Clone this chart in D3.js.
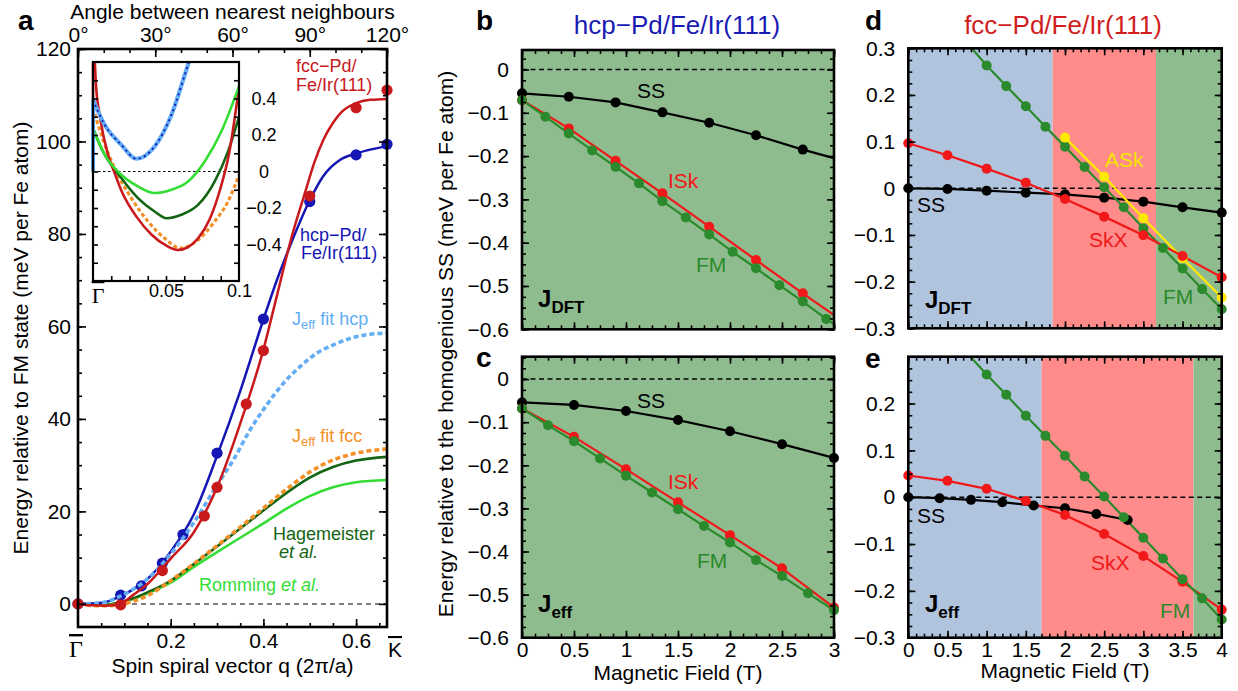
<!DOCTYPE html>
<html><head><meta charset="utf-8">
<script src="https://cdn.jsdelivr.net/npm/d3@7"></script>
<style>
body{margin:0;background:#fff;}
svg{display:block;font-family:"Liberation Sans",Arial,Helvetica,sans-serif;}
</style></head><body>
<svg id="chart" width="1238" height="691"></svg>
<script>
// ---------------- Panel a: spin-spiral dispersion ----------------
const fccPtsQ = [0, 0.092, 0.182, 0.2725, 0.30, 0.363, 0.40, 0.50, 0.60, 0.6667];
const fccPtsE = [0, -0.2, 7.2, 19.0, 25.2, 43.2, 54.8, 88.2, 107.3, 111.1];
const hcpPtsQ = [0, 0.092, 0.137, 0.182, 0.2265, 0.30, 0.40, 0.50, 0.60, 0.6667];
const hcpPtsE = [0, 1.9, 3.9, 8.8, 15.0, 32.6, 61.6, 87.0, 97.1, 99.4];

const fccCurveQ = [0, 0.03, 0.06, 0.09, 0.12, 0.15, 0.2, 0.25, 0.3, 0.35, 0.4, 0.43, 0.46, 0.49, 0.51, 0.53, 0.55, 0.57, 0.6, 0.63, 0.6667];
const fccCurveE = [0, -0.3, -0.4, 0.0, 2.0, 4.3, 9.8, 15.5, 25.2, 39.0, 55.0, 67.0, 79.0, 89.0, 95.5, 100.5, 104.0, 106.5, 108.3, 109.0, 109.2];
const hcpCurveQ = [0, 0.03, 0.06, 0.09, 0.12, 0.15, 0.2, 0.25, 0.3, 0.35, 0.4, 0.429, 0.457, 0.5, 0.529, 0.565, 0.6, 0.6667];
const hcpCurveE = [0, 0.07, 0.4, 1.6, 3.2, 5.4, 11.3, 19.4, 32.0, 46.0, 61.5, 70.0, 77.3, 87.3, 92.5, 96.0, 97.4, 99.0];
const jeffHcpQ = [0, 0.03, 0.06, 0.09, 0.12, 0.15, 0.2, 0.25, 0.3, 0.335, 0.371, 0.407, 0.443, 0.479, 0.515, 0.551, 0.587, 0.623, 0.6667];
const jeffHcpE = [0, 0.07, 0.4, 1.6, 3.2, 5.4, 10.8, 17.6, 25.7, 31.1, 37.6, 43.0, 47.7, 51.3, 54.2, 56.0, 57.4, 58.2, 58.6];
const jeffFccQ = [0, 0.03, 0.06, 0.09, 0.12, 0.15, 0.2, 0.25, 0.3, 0.35, 0.4, 0.45, 0.5, 0.55, 0.6, 0.6667];
const jeffFccE = [0, -0.35, -0.42, -0.1, 0.6, 1.8, 5.0, 8.7, 12.6, 16.6, 20.7, 24.8, 28.5, 31.1, 32.6, 33.5];
const hagemQ = [0, 0.03, 0.06, 0.09, 0.12, 0.15, 0.2, 0.25, 0.3, 0.35, 0.4, 0.45, 0.5, 0.55, 0.6, 0.6667];
const hagemE = [0, -0.15, -0.25, 0.3, 1.2, 2.5, 5.0, 8.6, 12.4, 16.3, 20.2, 24.0, 27.3, 29.6, 31.0, 31.8];
const rommQ = [0, 0.03, 0.06, 0.09, 0.12, 0.15, 0.2, 0.25, 0.3, 0.35, 0.4, 0.45, 0.5, 0.55, 0.6, 0.6667];
const rommE = [0, -0.1, -0.1, 0.3, 1.1, 2.3, 4.6, 8.0, 11.2, 14.3, 17.4, 20.6, 23.3, 25.2, 26.3, 26.8];

const aYTicks = [0, 20, 40, 60, 80, 100, 120];
const aXTicks = [0.2, 0.4, 0.6];
const angleTicks = [0, 30, 60, 90, 120];

// inset (zoom near Gamma)
const inFccQ = [0.0005, 0.002, 0.005, 0.01, 0.0144, 0.02, 0.03, 0.04, 0.05, 0.058, 0.065, 0.072, 0.08, 0.087, 0.093, 0.1];
const inFccE = [0.75, 0.48, 0.29, 0.1, 0.0, -0.115, -0.25, -0.345, -0.405, -0.43, -0.415, -0.366, -0.26, -0.1, 0.09, 0.46];
const inHcpQ = [0, 0.008, 0.0194, 0.0297, 0.0422, 0.0537, 0.0651, 0.07];
const inHcpE = [0.393, 0.256, 0.146, 0.070, 0.137, 0.31, 0.585, 0.70];
const inJeffFccQ = [0, 0.0057, 0.0148, 0.0263, 0.0377, 0.0491, 0.0600, 0.0719, 0.0833, 0.0925, 0.1];
const inJeffFccE = [0.35, 0.201, 0.018, -0.146, -0.274, -0.366, -0.420, -0.375, -0.274, -0.164, -0.02];
const inHagemQ = [0, 0.0057, 0.0194, 0.0308, 0.0422, 0.0502, 0.0605, 0.0719, 0.0833, 0.0925, 0.1];
const inHagemE = [0.237, 0.128, -0.036, -0.146, -0.219, -0.256, -0.237, -0.183, -0.055, 0.11, 0.30];
const inRommQ = [0, 0.008, 0.0194, 0.0308, 0.0422, 0.0537, 0.0651, 0.0765, 0.0879, 0.1];
const inRommE = [0.237, 0.092, -0.018, -0.082, -0.118, -0.1, -0.055, 0.055, 0.219, 0.467];
const inYLabels = [-0.4, -0.2, 0, 0.2, 0.4];
const inXLabels = [0.05, 0.1];

// ---------------- Panel b/c: hcp-Pd/Fe/Ir(111) ----------------
const bSSField = [0, 0.45, 0.9, 1.35, 1.8, 2.25, 2.7];
const bSS = [-0.055, -0.063, -0.076, -0.099, -0.123, -0.152, -0.185];
const bSSEnd = -0.205;
const bISk = [-0.071, -0.136, -0.211, -0.286, -0.363, -0.440, -0.517];
const bISkEnd = -0.567;
const bFMField = [0, 0.225, 0.45, 0.675, 0.9, 1.125, 1.35, 1.575, 1.8, 2.025, 2.25, 2.475, 2.7, 2.925];
const bFM = [-0.071, -0.109, -0.148, -0.187, -0.225, -0.263, -0.304, -0.342, -0.381, -0.421, -0.459, -0.498, -0.536, -0.576];
const bFMEnd = -0.588;
const bFieldEnd = 3.0;

const cSSField = [0, 0.5, 1, 1.5, 2, 2.5, 3];
const cSS = [-0.054, -0.060, -0.074, -0.095, -0.121, -0.151, -0.183];
const cISk = [-0.068, -0.134, -0.209, -0.286, -0.362, -0.439, -0.530];
const cFMField = [0, 0.25, 0.5, 0.75, 1, 1.25, 1.5, 1.75, 2, 2.25, 2.5, 2.75, 3];
const cFM = [-0.068, -0.107, -0.144, -0.184, -0.224, -0.263, -0.302, -0.341, -0.379, -0.420, -0.457, -0.497, -0.536];

// ---------------- Panel d/e: fcc-Pd/Fe/Ir(111) ----------------
const dSSField = [0, 0.5, 1, 1.5, 2, 2.5, 3, 3.5, 4];
const dSS = [0, -0.0014, -0.005, -0.0093, -0.0129, -0.020, -0.0286, -0.0407, -0.0521];
const dSkX = [0.0964, 0.0707, 0.0421, 0.0121, -0.0229, -0.0607, -0.1007, -0.145, -0.1907];
const dFMField = [1, 1.25, 1.5, 1.75, 2, 2.25, 2.5, 2.75, 3, 3.25, 3.5, 3.75, 4];
const dFM = [0.263, 0.219, 0.176, 0.132, 0.0893, 0.0457, 0.0021, -0.0407, -0.0857, -0.128, -0.172, -0.216, -0.259];
const dFMTop = [0.81, 0.30];
const dASkField = [2, 2.5, 3, 3.5, 4];
const dASk = [0.1086, 0.025, -0.0643, -0.15, -0.234];
const dPhaseBounds = [0, 1.843, 3.162, 4];

const eSSField = [0, 0.4, 0.8, 1.2, 1.6, 2.0, 2.4, 2.8];
const eSS = [0, -0.0021, -0.0057, -0.0107, -0.0179, -0.0236, -0.0357, -0.0486];
const eSkXField = [0, 0.5, 1, 1.5, 2, 2.5, 3, 3.5, 4];
const eSkX = [0.0464, 0.035, 0.0179, -0.0079, -0.0379, -0.0786, -0.1257, -0.1807, -0.24];
const eFMField = [1, 1.25, 1.5, 1.75, 2, 2.25, 2.5, 2.75, 3, 3.25, 3.5, 3.75, 4];
const eFM = [0.262, 0.219, 0.174, 0.131, 0.0886, 0.0443, 0.0014, -0.0429, -0.0864, -0.131, -0.175, -0.216, -0.261];
const eFMTop = [0.787, 0.301];
const ePhaseBounds = [0, 1.70, 3.64, 4];

const phaseColors = ["#b0c4de", "#ff8b8b", "#8fbc8f"];

// ---------------- colours ----------------
const C = {
  fcc: "#c8191c", hcp: "#1616b4", jeffHcp: "#62adf3", jeffFcc: "#f39128",
  hagem: "#136413", romm: "#34dd34", ss: "#000", red: "#f01818", fm: "#2b8a2b",
  ask: "#ffea00", askText: "#f5e400"
};

const svg = d3.select("#chart");
const zip = (a, b) => a.map((v, i) => [v, b[i]]);
const fmt1 = d => d === 0 ? "0" : d3.format(".1f")(d);
const steps = (a, b, s) => d3.range(Math.round((b - a) / s) + 1).map(i => +(a + i * s).toFixed(6));

function axis(g, fn, scale, values, size, transform, opts = {}) {
  const ax = fn(scale).tickValues(values).tickSize(-size)
    .tickPadding(opts.pad || 5).tickFormat(opts.format || "");
  const s = g.append("g").attr("transform", transform).call(ax);
  s.select(".domain").remove();
  s.attr("font-family", null).attr("font-size", null);
  s.selectAll("line").attr("stroke", "#000").attr("stroke-width", 1.6);
  s.selectAll("text").attr("fill", "#000").attr("font-size", opts.fs || 21);
  return s;
}

function frame(g, x, y) {
  g.append("rect").attr("x", x.range()[0]).attr("y", y.range()[1])
    .attr("width", x.range()[1] - x.range()[0]).attr("height", y.range()[0] - y.range()[1])
    .attr("fill", "none").attr("stroke", "#000").attr("stroke-width", 2.6);
}

function text(g, x, y, str, opts = {}) {
  const t = g.append("text").attr("x", x).attr("y", y).attr("font-size", opts.fs || 21)
    .attr("fill", opts.fill || "#000").attr("text-anchor", opts.anchor || "start");
  if (opts.weight) t.attr("font-weight", opts.weight);
  if (opts.style) t.attr("font-style", opts.style);
  if (opts.family) t.attr("font-family", opts.family);
  t.text(str);
  return t;
}

// ======================= PANEL A =======================
const aX = d3.scaleLinear().domain([0, 2 / 3]).range([78, 387]);
const aY = d3.scaleLinear().domain([-5, 120]).range([627, 49]);
const aAng = d3.scaleLinear().domain([0, 120]).range([78, 387]);
const gA = svg.append("g");

// zero line
gA.append("line").attr("x1", aX(0)).attr("x2", aX(2 / 3)).attr("y1", aY(0)).attr("y2", aY(0))
  .attr("stroke", "#555").attr("stroke-width", 1.5).attr("stroke-dasharray", "5,4");

const lineA = d3.line().x(d => aX(d[0])).y(d => aY(d[1])).curve(d3.curveMonotoneX);
const curvesA = gA.append("g");
function curveA(q, e, color, w, dash) {
  const p = curvesA.append("path").attr("d", lineA(zip(q, e))).attr("fill", "none")
    .attr("stroke", color).attr("stroke-width", w).attr("stroke-linecap", "butt");
  if (dash) p.attr("stroke-dasharray", dash);
}
curveA(rommQ, rommE, C.romm, 2.6);
curveA(hagemQ, hagemE, C.hagem, 2.6);
curveA(jeffFccQ, jeffFccE, C.jeffFcc, 3.6, "5,3");
curveA(hcpCurveQ, hcpCurveE, C.hcp, 2.5);
curvesA.selectAll("circle.hcp").data(zip(hcpPtsQ, hcpPtsE)).join("circle")
  .attr("cx", d => aX(d[0])).attr("cy", d => aY(d[1])).attr("r", 5.6).attr("fill", C.hcp);
curveA(jeffHcpQ, jeffHcpE, C.jeffHcp, 3.6, "5,3");
curveA(fccCurveQ, fccCurveE, C.fcc, 2.5);
curvesA.selectAll("circle.fcc").data(zip(fccPtsQ, fccPtsE)).join("circle")
  .attr("cx", d => aX(d[0])).attr("cy", d => aY(d[1])).attr("r", 5.6).attr("fill", C.fcc);

// axes a
axis(gA, d3.axisLeft, aY, steps(0, 120, 5), 4, "translate(78,0)");
axis(gA, d3.axisLeft, aY, aYTicks, 8, "translate(78,0)", { format: d3.format("d"), pad: 7 });
axis(gA, d3.axisRight, aY, steps(0, 120, 5), 4, "translate(387,0)");
axis(gA, d3.axisRight, aY, aYTicks, 8, "translate(387,0)");
axis(gA, d3.axisBottom, aX, steps(0.05, 0.65, 0.05), 4, "translate(0,627)");
axis(gA, d3.axisBottom, aX, aXTicks, 8, "translate(0,627)", { format: d3.format(".1f"), pad: 6 });
axis(gA, d3.axisTop, aAng, steps(0, 120, 10), 4, "translate(0,49)");
axis(gA, d3.axisTop, aAng, angleTicks, 8, "translate(0,49)", { format: d => d + "°", pad: 7 });
frame(gA, aX, aY);

// Gamma / K labels
text(gA, aX(0) - 2, 657, "Γ", { fs: 24, anchor: "middle", family: '"Liberation Serif", "Times New Roman", serif' })
  .style("text-decoration", "overline");
text(gA, aX(2 / 3) + 8, 657, "K", { fs: 21, anchor: "middle" }).style("text-decoration", "overline");

text(gA, 232.5, 673, "Spin spiral vector q (2π/a)", { anchor: "middle" });
text(gA, 232.5, 19, "Angle between nearest neighbours", { anchor: "middle" });
gA.append("text").attr("transform", "translate(28,338) rotate(-90)").attr("text-anchor", "middle")
  .attr("font-size", 21).text("Energy relative to FM state (meV per Fe atom)");
text(gA, 18, 30, "a", { fs: 28, weight: "bold" });

// curve labels
text(gA, 296, 72, "fcc−Pd/", { fs: 18, fill: C.fcc });
text(gA, 296, 91, "Fe/Ir(111)", { fs: 18, fill: C.fcc });
text(gA, 300, 241, "hcp−Pd/", { fs: 18, fill: C.hcp });
text(gA, 301, 259, "Fe/Ir(111)", { fs: 18, fill: C.hcp });
function jeffLabel(x, y, rest, color) {
  const t = gA.append("text").attr("x", x).attr("y", y).attr("font-size", 18).attr("fill", color);
  t.append("tspan").text("J");
  t.append("tspan").attr("font-size", 13).attr("dy", 4).text("eff");
  t.append("tspan").attr("dy", -4).text(rest);
}
jeffLabel(292, 325, " fit hcp", C.jeffHcp);
jeffLabel(292, 442, " fit fcc", C.jeffFcc);
text(gA, 273, 540, "Hagemeister", { fs: 18, fill: C.hagem });
text(gA, 279, 558, "et al.", { fs: 18, fill: C.hagem, style: "italic" });
const rt = gA.append("text").attr("x", 199).attr("y", 591).attr("font-size", 18).attr("fill", C.romm);
rt.append("tspan").text("Romming ");
rt.append("tspan").attr("font-style", "italic").text("et al.");

// ----- inset -----
const iX = d3.scaleLinear().domain([0, 0.1]).range([93, 239]);
const iY = d3.scaleLinear().domain([-0.6, 0.6]).range([281, 62]);
const gI = svg.append("g");
gI.append("rect").attr("x", 93).attr("y", 62).attr("width", 146).attr("height", 219).attr("fill", "#fff");
gI.append("clipPath").attr("id", "clipI").append("rect").attr("x", 91).attr("y", 62).attr("width", 148).attr("height", 219);
gI.append("line").attr("x1", iX(0)).attr("x2", iX(0.1)).attr("y1", iY(0)).attr("y2", iY(0))
  .attr("stroke", "#000").attr("stroke-width", 1.2).attr("stroke-dasharray", "2.5,2.5");
const gIc = gI.append("g").attr("clip-path", "url(#clipI)");
const lineI = d3.line().x(d => iX(d[0])).y(d => iY(d[1])).curve(d3.curveMonotoneX);
const lineIlin = d3.line().x(d => iX(d[0])).y(d => iY(d[1]));
function curveI(q, e, color, w, dash) {
  // jump from E = 0 at Gamma to the first spin-spiral value
  const j = gIc.append("path").attr("d", lineIlin([[0, 0], [0, e[0]]])).attr("fill", "none")
    .attr("stroke", color).attr("stroke-width", w);
  const p = gIc.append("path").attr("d", lineI(zip(q, e))).attr("fill", "none")
    .attr("stroke", color).attr("stroke-width", w);
  if (dash) { p.attr("stroke-dasharray", dash); j.attr("stroke-dasharray", dash); }
}
curveI(inJeffFccQ, inJeffFccE, C.jeffFcc, 3.2, "4,2.5");
curveI(inHagemQ, inHagemE, C.hagem, 2.6);
curveI(inFccQ, inFccE, C.fcc, 2.6);
curveI(inRommQ, inRommE, C.romm, 2.6);
curveI(inHcpQ, inHcpE, C.jeffHcp, 4.2);
curveI(inHcpQ, inHcpE, C.hcp, 1.8, "2,3.5");
axis(gI, d3.axisLeft, iY, steps(-0.5, 0.5, 0.1), 5, "translate(93,0)");
axis(gI, d3.axisRight, iY, steps(-0.5, 0.5, 0.1), 5, "translate(239,0)");
axis(gI, d3.axisBottom, iX, steps(0.0125, 0.0875, 0.0125), 5, "translate(0,281)");
axis(gI, d3.axisBottom, iX, inXLabels, 0, "translate(0,281)", { format: d3.format("~g"), pad: 3, fs: 18 });
gI.selectAll("text.iny").data(inYLabels).join("text").attr("class", "iny")
  .attr("x", 264).attr("y", d => iY(d)).attr("dy", "0.35em").attr("text-anchor", "middle")
  .attr("font-size", 18).text(fmt1);
gI.append("rect").attr("x", 93).attr("y", 62).attr("width", 146).attr("height", 219)
  .attr("fill", "none").attr("stroke", "#000").attr("stroke-width", 2.2);
text(gI, 98, 303, "Γ", { fs: 22, anchor: "middle", family: '"Liberation Serif", "Times New Roman", serif' })
  .style("text-decoration", "overline");

// ======================= PANELS b-e =======================
function fieldPanel(o) {
  const g = svg.append("g");
  const id = "clip" + o.name;
  g.append("clipPath").attr("id", id).append("rect")
    .attr("x", o.x.range()[0]).attr("y", o.y.range()[1])
    .attr("width", o.x.range()[1] - o.x.range()[0]).attr("height", o.y.range()[0] - o.y.range()[1]);
  g.selectAll("rect.bg").data(d3.pairs(o.bounds)).join("rect").attr("class", "bg")
    .attr("x", d => o.x(d[0])).attr("width", d => o.x(d[1]) - o.x(d[0]))
    .attr("y", o.y.range()[1]).attr("height", o.y.range()[0] - o.y.range()[1])
    .attr("fill", (d, i) => o.colors[i]);
  g.append("line").attr("x1", o.x.range()[0]).attr("x2", o.x.range()[1])
    .attr("y1", o.y(0)).attr("y2", o.y(0)).attr("stroke", "#000").attr("stroke-width", 1.5)
    .attr("stroke-dasharray", "5,3.5");
  const data = g.append("g").attr("clip-path", `url(#${id})`);
  const line = d3.line().x(d => o.x(d[0])).y(d => o.y(d[1]));
  o.series.forEach(s => {
    data.append("path").attr("d", line(s.line)).attr("fill", "none")
      .attr("stroke", s.color).attr("stroke-width", 2.2);
  });
  const dots = g.append("g");
  o.series.forEach(s => {
    dots.selectAll(null).data(s.dots).join("circle")
      .attr("cx", d => o.x(d[0])).attr("cy", d => o.y(d[1])).attr("r", 5).attr("fill", s.color);
  });
  const [x0, x1] = o.x.range(), [y1, y0] = o.y.range();
  const yMin = steps(o.yMinor[0], o.yMinor[1], 0.025);
  axis(g, d3.axisLeft, o.y, yMin, 4, `translate(${x0},0)`);
  axis(g, d3.axisLeft, o.y, o.yMajor, 7, `translate(${x0},0)`);
  axis(g, d3.axisLeft, o.y, o.yLabels, 0, `translate(${x0},0)`, { format: fmt1, pad: 13 });
  axis(g, d3.axisRight, o.y, yMin, 4, `translate(${x1},0)`);
  axis(g, d3.axisRight, o.y, o.yMajor, 7, `translate(${x1},0)`);
  const xMin = steps(0, o.xMax, o.xMinorStep);
  const xMaj = steps(0, o.xMax, 0.5);
  axis(g, d3.axisBottom, o.x, xMin, 4, `translate(0,${y1})`);
  axis(g, d3.axisBottom, o.x, xMaj, 7, `translate(0,${y1})`,
    o.xLabels ? { format: d3.format("~g"), pad: 4 } : {});
  axis(g, d3.axisTop, o.x, xMin, 4, `translate(0,${y0})`);
  axis(g, d3.axisTop, o.x, xMaj, 7, `translate(0,${y0})`);
  frame(g, o.x, o.y);
  o.labels.forEach(l => {
    if (l.sub) {
      const t = g.append("text").attr("x", o.x(l.at[0])).attr("y", o.y(l.at[1]))
        .attr("font-size", 24).attr("font-weight", "bold").attr("fill", "#000");
      t.append("tspan").text(l.text);
      t.append("tspan").attr("font-size", 17).attr("dy", 6).text(l.sub);
    } else {
      text(g, o.x(l.at[0]), o.y(l.at[1]), l.text, { fill: l.color });
    }
  });
  return g;
}

const xB = d3.scaleLinear().domain([0, 3]).range([522, 834]);
const yB = d3.scaleLinear().domain([-0.6, 0.045]).range([329.3, 50]);
const yC = d3.scaleLinear().domain([-0.6, 0.052]).range([637.7, 356.7]);
const xD = d3.scaleLinear().domain([0, 4]).range([908.3, 1221.7]);
const yD = d3.scaleLinear().domain([-0.3, 0.3]).range([328.3, 48.3]);
const yE = d3.scaleLinear().domain([-0.3, 0.3]).range([637.7, 356.7]);

const withEnd = (f, v, end) => zip(f, v).concat([[bFieldEnd, end]]);
fieldPanel({
  name: "b", x: xB, y: yB, bounds: [0, 3], colors: [phaseColors[2]],
  yMajor: steps(-0.6, 0, 0.1), yLabels: steps(-0.6, 0, 0.1), yMinor: [-0.6, 0.025],
  xMax: 3, xMinorStep: 0.125, xLabels: false,
  series: [
    { color: C.ss, line: withEnd(bSSField, bSS, bSSEnd), dots: zip(bSSField, bSS) },
    { color: C.red, line: withEnd(bSSField, bISk, bISkEnd), dots: zip(bSSField, bISk) },
    { color: C.fm, line: withEnd(bFMField, bFM, bFMEnd), dots: zip(bFMField, bFM) }
  ],
  labels: [
    { text: "SS", at: [1.106, -0.066], color: C.ss },
    { text: "ISk", at: [1.404, -0.274], color: C.red },
    { text: "FM", at: [1.673, -0.468], color: C.fm },
    { text: "J", sub: "DFT", at: [0.154, -0.548] }
  ]
});
fieldPanel({
  name: "c", x: xB, y: yC, bounds: [0, 3], colors: [phaseColors[2]],
  yMajor: steps(-0.6, 0, 0.1), yLabels: steps(-0.6, 0, 0.1), yMinor: [-0.6, 0.05],
  xMax: 3, xMinorStep: 0.125, xLabels: true,
  series: [
    { color: C.ss, line: zip(cSSField, cSS), dots: zip(cSSField, cSS) },
    { color: C.red, line: zip(cSSField, cISk), dots: zip(cSSField, cISk) },
    { color: C.fm, line: zip(cFMField, cFM), dots: zip(cFMField, cFM) }
  ],
  labels: [
    { text: "SS", at: [1.106, -0.067], color: C.ss },
    { text: "ISk", at: [1.404, -0.255], color: C.red },
    { text: "FM", at: [1.683, -0.438], color: C.fm },
    { text: "J", sub: "eff", at: [0.154, -0.540] }
  ]
});
fieldPanel({
  name: "d", x: xD, y: yD, bounds: dPhaseBounds, colors: phaseColors,
  yMajor: steps(-0.3, 0.3, 0.1), yLabels: steps(-0.3, 0.3, 0.1), yMinor: [-0.3, 0.3],
  xMax: 4, xMinorStep: 0.1, xLabels: false,
  series: [
    { color: C.ss, line: zip(dSSField, dSS), dots: zip(dSSField, dSS) },
    { color: C.fm, line: [dFMTop].concat(zip(dFMField, dFM)), dots: zip(dFMField, dFM) },
    { color: C.ask, line: zip(dASkField, dASk), dots: zip(dASkField, dASk) },
    { color: C.red, line: zip(dSSField, dSkX), dots: zip(dSSField, dSkX) }
  ],
  labels: [
    { text: "SS", at: [0.111, -0.051], color: C.ss },
    { text: "SkX", at: [2.306, -0.126], color: C.red },
    { text: "ASk", at: [2.51, 0.046], color: C.askText },
    { text: "FM", at: [3.25, -0.248], color: C.fm },
    { text: "J", sub: "DFT", at: [0.213, -0.256] }
  ]
});
fieldPanel({
  name: "e", x: xD, y: yE, bounds: ePhaseBounds, colors: phaseColors,
  yMajor: steps(-0.3, 0.3, 0.1), yLabels: steps(-0.3, 0.2, 0.1), yMinor: [-0.3, 0.3],
  xMax: 4, xMinorStep: 0.1, xLabels: true,
  series: [
    { color: C.ss, line: zip(eSSField, eSS), dots: zip(eSSField, eSS) },
    { color: C.red, line: zip(eSkXField, eSkX), dots: zip(eSkXField, eSkX) },
    { color: C.fm, line: [eFMTop].concat(zip(eFMField, eFM)), dots: zip(eFMField, eFM) }
  ],
  labels: [
    { text: "SS", at: [0.111, -0.055], color: C.ss },
    { text: "SkX", at: [2.332, -0.156], color: C.red },
    { text: "FM", at: [3.213, -0.257], color: C.fm },
    { text: "J", sub: "eff", at: [0.213, -0.246] }
  ]
});

// titles and panel letters
text(svg, 677, 34, "hcp−Pd/Fe/Ir(111)", { fs: 26, fill: "#1a1ab4", anchor: "middle" });
text(svg, 1063, 34, "fcc−Pd/Fe/Ir(111)", { fs: 26, fill: "#d01e1e", anchor: "middle" });
text(svg, 476, 30, "b", { fs: 28, weight: "bold" });
text(svg, 476, 367, "c", { fs: 28, weight: "bold" });
text(svg, 865, 30, "d", { fs: 28, weight: "bold" });
text(svg, 865, 368, "e", { fs: 28, weight: "bold" });
text(svg, 678, 680, "Magnetic Field (T)", { anchor: "middle" });
text(svg, 1065, 678, "Magnetic Field (T)", { anchor: "middle" });
svg.append("text").attr("transform", "translate(453,344) rotate(-90)").attr("text-anchor", "middle")
  .attr("font-size", 21).text("Energy relative to the homogenious SS (meV per Fe atom)");
</script>
</body></html>
